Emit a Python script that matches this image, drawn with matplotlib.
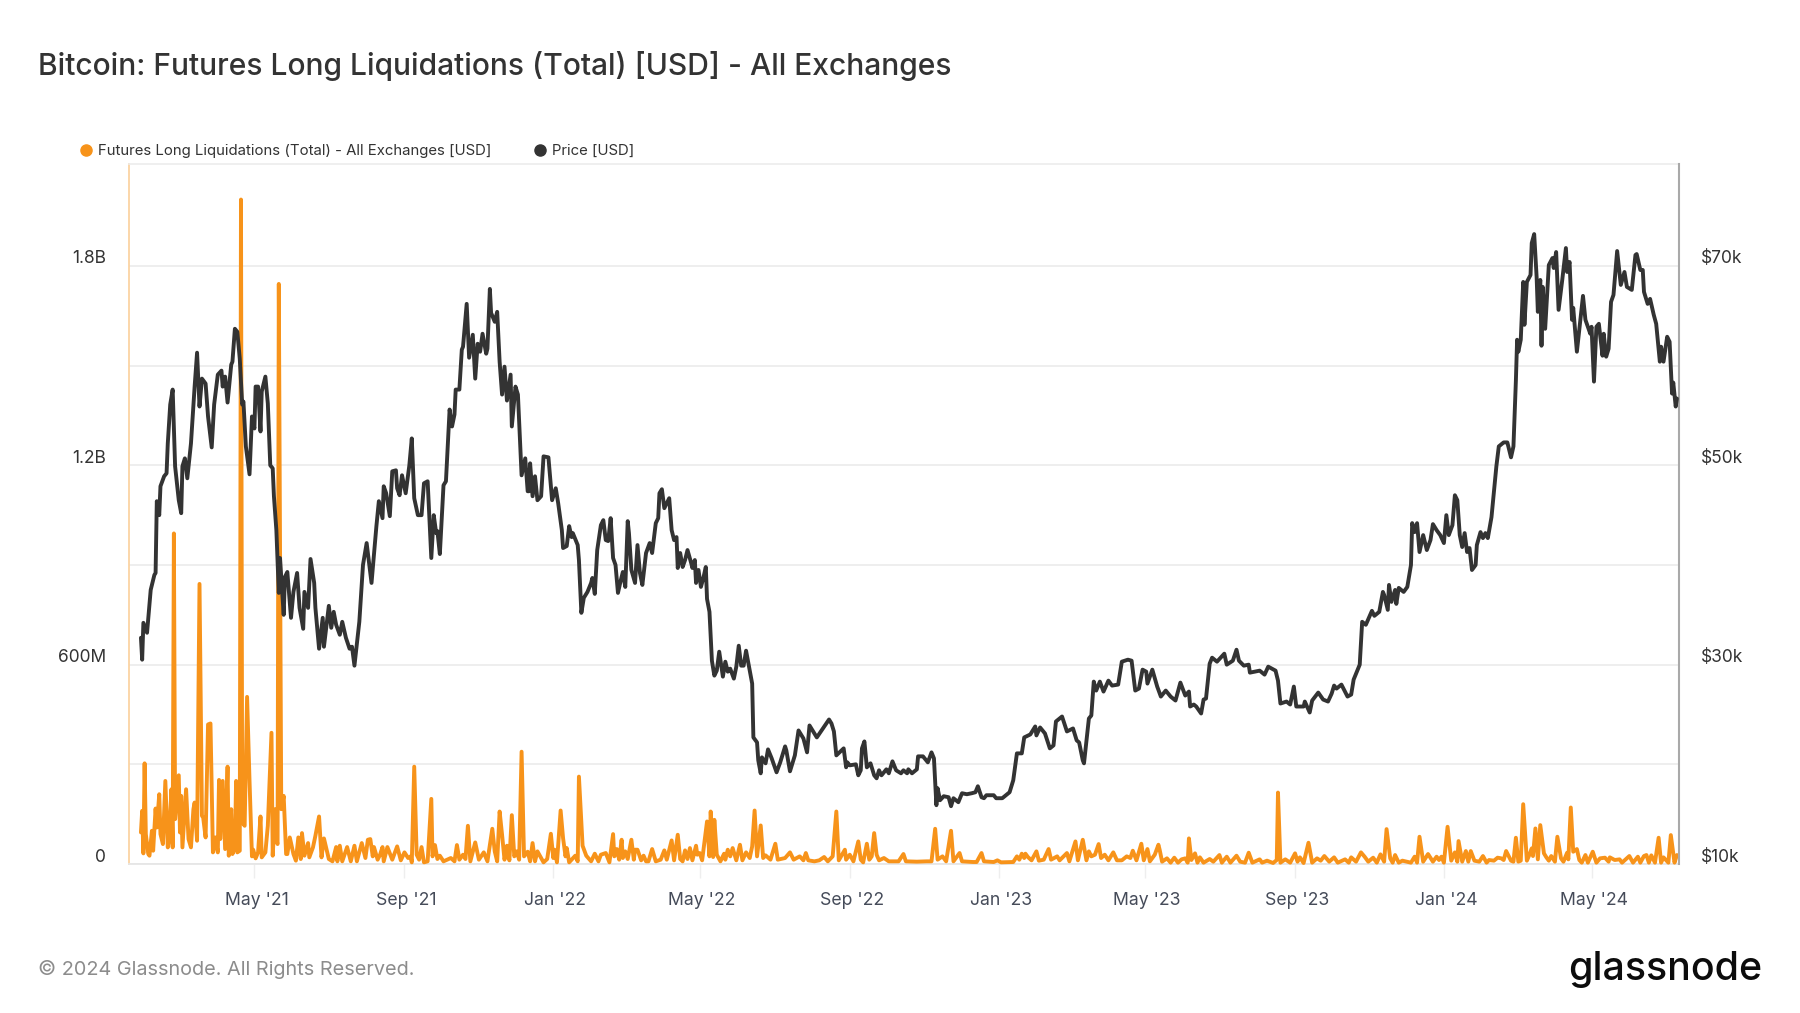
import pandas as pd
import matplotlib
matplotlib.use("Agg")
import matplotlib.pyplot as plt
import matplotlib.dates as mdates
from matplotlib.lines import Line2D
from matplotlib.transforms import ScaledTranslation

plt.rcParams["font.family"] = ["Inter", "DejaVu Sans"]

start_date = "2021-01-28"

price_days = [
    0, 1, 2, 5, 8, 11, 12, 13, 15, 16, 19, 21, 22, 24, 26, 28, 31, 33, 34, 36,
    38, 41, 44, 46, 48, 50, 53, 55, 58, 60, 63, 66, 67, 69, 71, 74, 75, 77, 79, 81,
    83, 84, 86, 89, 91, 93, 94, 96, 98, 99, 102, 104, 106, 108, 109, 111, 113, 114, 117, 118,
    120, 123, 125, 128, 130, 133, 134, 137, 139, 142, 143, 146, 149, 150, 154, 156, 158, 160, 163, 165,
    168, 171, 173, 175, 179, 182, 185, 189, 193, 195, 198, 199, 201, 204, 206, 209, 210, 212, 214, 217,
    220, 222, 224, 227, 230, 232, 235, 238, 240, 242, 243, 245, 248, 250, 253, 255, 257, 258, 261, 263,
    264, 267, 269, 272, 274, 276, 278, 280, 283, 284, 286, 287, 290, 292, 294, 296, 298, 300, 303, 304,
    307, 309, 312, 315, 317,
    318, 319, 321, 323, 325, 328, 330, 334, 337, 340, 342, 345, 346, 349, 351, 353, 354, 358, 359, 361,
    363, 366, 369, 370, 372, 374, 377, 379, 381, 383, 385, 387, 389, 391, 393, 395, 397, 399, 400, 402,
    405, 407, 409, 411, 414, 417, 419, 422, 424, 425, 427, 429, 433, 435, 437, 439, 440, 442, 444, 446,
    448, 451, 452, 454, 455, 457, 459, 461, 463,
    464, 466, 468, 470, 472, 474, 477, 479, 481, 483, 486, 488, 490, 492, 494, 496, 498, 501, 502, 505,
    506, 508, 509, 512, 514, 517, 521, 524, 528, 529, 532, 536, 539, 543, 546, 548, 554, 559, 564, 566,
    568, 570, 576, 578, 579, 581, 586, 588, 590, 591, 593, 595, 598, 601, 603, 605, 607, 611, 613, 616,
    619, 623, 625, 628, 629, 632, 636, 637, 641, 645, 648, 650, 652, 653, 655, 658, 662, 664, 666, 670,
    673, 677, 681, 684, 686, 689, 691, 693, 699, 701, 706, 712, 715, 718, 722, 724, 729, 733, 734, 737,
    741, 745, 748, 750, 755, 759, 764, 767, 769,
    772, 773, 777, 779, 781, 783, 786, 789, 793, 796, 801, 804, 809, 812, 815, 818, 821, 824, 825, 829,
    833, 836, 840, 844, 848, 852, 856, 859, 860, 863, 865, 869, 871, 873, 876, 878, 882, 888, 890, 895,
    898, 900, 904, 908, 909, 917, 921, 924, 930, 932, 934, 939, 942, 945, 947, 953, 954, 958, 960, 965,
    969, 973, 976, 978, 980, 984, 989, 992, 994, 996, 999, 1001, 1004, 1009, 1011, 1015, 1018, 1019, 1022, 1023,
    1025, 1028, 1029, 1031, 1035, 1038, 1041, 1042, 1044, 1046, 1048, 1051, 1054, 1057, 1059, 1062,
    1065, 1068, 1070, 1072, 1075, 1077, 1079, 1081, 1083, 1085, 1087, 1089, 1091, 1094, 1095, 1098, 1100, 1102, 1104, 1107,
    1109, 1111, 1113, 1117, 1120, 1123, 1125, 1127, 1128, 1129, 1131, 1133, 1134, 1136, 1139, 1140, 1142, 1144, 1145, 1147,
    1148, 1149, 1151, 1154, 1157, 1158, 1160, 1162, 1165, 1168, 1169, 1171, 1173, 1174, 1177, 1180, 1182, 1184, 1188, 1189,
    1191, 1193, 1195, 1198, 1199, 1201, 1203, 1205, 1207, 1210, 1213, 1216, 1218, 1222, 1225, 1226, 1229, 1231, 1232, 1235,
    1237, 1240, 1242, 1245, 1246, 1248, 1251, 1253, 1255, 1256, 1258, 1259,
]

price_usd_k = [
    32.7, 30.5, 34.2, 33.2, 37.5, 39.0, 39.2, 46.4, 45.0, 47.9, 48.9, 49.2, 52.2, 56.1, 57.6, 49.9, 46.5, 45.2, 49.9, 50.7,
    48.7, 52.2, 57.9, 61.3, 55.9, 58.7, 58.2, 54.9, 51.8, 56.1, 59.1, 59.5, 57.9, 58.9, 56.3, 60.1, 60.4, 63.7, 63.4, 60.7,
    56.1, 56.4, 51.9, 49.1, 54.9, 53.7, 57.9, 57.9, 53.4, 57.4, 58.9, 56.2, 50.0, 49.7, 46.9, 43.5, 37.2, 40.7, 35.0, 38.8,
    39.3, 34.7, 37.3, 39.2, 35.7, 33.6, 37.3, 35.7, 40.6, 38.2, 35.7, 31.6, 34.7, 31.8, 35.9, 33.7, 35.3, 34.0, 33.0, 34.3,
    32.7, 31.6, 31.8, 29.9, 34.3, 40.0, 42.2, 38.2, 43.9, 46.4, 44.7, 47.9, 47.2, 44.9, 49.4, 49.5, 47.7, 47.0, 49.0, 47.2,
    50.0, 52.7, 46.7, 45.0, 45.0, 48.2, 48.4, 40.7, 45.0, 43.2, 43.4, 41.1, 48.0, 48.4, 55.6, 53.9, 55.1, 57.6, 57.6, 61.6,
    61.9, 66.2, 60.8, 63.1, 58.7, 62.2, 61.4, 63.2, 61.2, 61.7, 67.7, 65.3, 64.4, 65.4, 60.4, 57.1, 59.9, 56.5, 59.1, 53.9,
    57.9, 57.1, 49.0, 50.7, 47.4,
    47.4, 50.2, 46.9, 48.9, 46.5, 46.9, 50.9, 50.8, 46.5, 47.7, 46.2, 43.5, 41.7, 41.9, 43.9, 42.8, 43.2, 42.0, 40.5, 35.2,
    36.7, 37.3, 38.2, 38.7, 37.1, 41.5, 44.0, 44.5, 42.5, 42.4, 44.7, 40.7, 40.0, 37.2, 38.3, 39.3, 37.8, 44.4, 43.2, 39.5,
    38.2, 42.0, 39.2, 38.0, 41.2, 42.2, 41.2, 44.2, 44.7, 47.2, 47.6, 45.7, 46.7, 43.5, 42.5, 42.8, 39.7, 41.2, 39.8, 40.5,
    41.5, 40.2, 39.7, 40.5, 38.2, 39.5, 37.8, 38.7, 39.8,
    36.6, 35.3, 30.4, 28.9, 29.4, 31.3, 28.8, 30.3, 29.3, 29.6, 28.6, 29.8, 31.9, 29.9, 29.9, 31.4, 30.1, 28.1, 22.7, 22.2,
    20.4, 19.1, 20.7, 20.1, 21.5, 20.6, 19.2, 20.2, 21.8, 21.4, 19.3, 20.9, 23.4, 22.6, 21.2, 23.9, 22.7, 23.6, 24.5, 24.1,
    23.3, 20.9, 21.6, 19.7, 20.2, 19.9, 20.0, 18.9, 19.4, 21.6, 22.3, 19.7, 20.1, 18.9, 18.6, 19.4, 18.9, 19.5, 19.1, 20.3,
    19.4, 19.1, 19.4, 19.1, 19.5, 19.1, 19.5, 20.8, 20.8, 20.2, 21.2, 20.6, 15.9, 17.6, 16.4, 16.8, 16.7, 15.8, 16.6, 16.2,
    17.1, 17.0, 17.1, 17.2, 17.8, 16.7, 16.6, 16.9, 16.9, 16.6, 16.6, 17.2, 18.4, 21.1, 21.1, 22.7, 23.0, 23.8, 22.9, 23.7,
    23.1, 21.6, 21.9, 24.3, 24.8, 23.3, 23.6, 22.4, 22.2,
    20.4, 20.1, 24.6, 24.9, 28.3, 27.4, 28.3, 27.3, 28.4, 27.9, 28.0, 30.3, 30.5, 30.4, 27.4, 27.6, 29.5, 29.3, 28.1, 29.5,
    27.8, 26.8, 27.4, 26.8, 26.4, 28.2, 26.9, 27.3, 25.8, 26.0, 25.8, 25.1, 26.5, 26.6, 30.1, 30.7, 30.3, 31.1, 30.0, 30.4,
    31.5, 30.4, 29.9, 30.0, 29.2, 29.4, 29.0, 29.8, 29.4, 28.4, 26.1, 26.3, 26.0, 27.8, 25.8, 25.8, 26.3, 25.2, 26.4, 27.2,
    26.5, 26.3, 27.1, 27.9, 27.6, 28.0, 26.8, 27.0, 28.5, 29.1, 30.0, 34.3, 34.0, 35.4, 34.9, 35.3, 37.3, 37.0, 35.5, 38.0,
    36.3, 37.5, 36.1, 37.7, 37.3, 37.8, 40.0, 44.2, 43.3, 44.2, 41.3, 43.0, 41.5, 42.5, 44.1, 43.5,
    43.0, 42.2, 45.0, 43.0, 44.0, 47.0, 46.5, 43.0, 41.8, 43.2, 41.3, 41.7, 39.5, 40.0, 42.0, 43.3, 42.7, 43.2, 42.7, 44.8,
    47.3, 49.9, 51.9, 52.3, 52.3, 50.8, 51.9, 58.5, 62.6, 61.4, 62.6, 68.4, 64.1, 68.4, 69.1, 72.3, 73.2, 68.9, 65.4, 68.6,
    62.0, 67.9, 63.7, 70.1, 70.8, 69.8, 71.4, 65.6, 68.6, 71.8, 69.4, 70.4, 64.6, 65.8, 61.4, 64.7, 67.0, 64.6, 63.2, 63.9,
    58.4, 63.9, 64.2, 61.0, 63.2, 60.9, 61.7, 66.4, 67.1, 71.5, 68.1, 69.4, 67.9, 67.6, 71.1, 71.2, 69.6, 69.6, 67.4, 66.2,
    66.7, 65.1, 64.2, 60.4, 61.9, 60.4, 62.9, 62.4, 57.2, 58.3, 55.9, 56.7,
]

liq_days = [
    0, 1, 2, 3, 4, 6, 7, 9, 10, 12, 13, 15, 16, 18, 20, 22, 23, 25, 26, 27,
    28, 31, 32, 33, 34, 37, 39, 41, 43, 44, 46, 48, 50, 51, 53, 55, 57, 59, 61, 63,
    64, 65, 67, 69, 71, 72, 74, 75, 77, 78, 79, 81, 82, 83, 85, 87, 89, 91, 92, 94,
    96, 98, 99, 102, 104, 107, 108, 110, 111, 112, 113, 115, 117, 119, 120, 122, 125, 127, 129, 131,
    132, 134, 137, 138, 141, 143, 146, 148, 150, 154,
    157, 160, 161, 163, 165, 169, 172, 175, 177, 181, 184, 186, 188, 190, 191, 194, 196, 198, 199, 202,
    206, 210, 213, 216, 219, 221, 222, 224, 226, 228, 230, 232, 235, 238, 239, 241, 243, 245, 248, 254,
    257, 259, 261, 264, 266, 268, 270, 274, 277, 281, 284, 288, 290, 292, 294, 296, 298, 300, 302, 304,
    306, 308, 310, 312, 314, 317, 319, 321, 323, 325, 328, 330, 333, 336, 338, 339, 341, 344, 346, 348,
    349, 351, 356, 358, 359, 362, 365, 369, 372, 375, 377, 381, 384, 387, 388, 390, 392, 394, 395, 397,
    399, 402, 404, 405, 407, 410, 412, 414,
    416, 419, 422, 426, 429, 431, 435, 437, 440, 442, 444, 446, 448, 450, 452, 455, 456, 458, 460, 464,
    466, 467, 469, 470, 472, 475, 478, 479, 481, 483, 485, 488, 491, 493, 496, 499, 501, 503, 505, 508,
    510, 512, 516, 520, 522, 528, 532, 535, 540, 543, 545, 547, 552, 556, 560, 563, 567, 570, 572, 577,
    578, 581, 584, 588, 590, 592, 595, 597, 599, 601, 603, 605, 609, 613, 621, 625, 627, 636, 644, 648,
    651, 653, 657, 660, 664, 666, 671, 673, 682, 685, 689, 691, 699, 702, 705, 715, 718, 720, 722, 724,
    725, 727, 730, 734, 736, 740, 744, 746, 751, 753, 759, 761, 766, 768, 772, 775, 777, 779, 782, 785,
    787, 790, 793, 797, 800, 804, 808, 811, 813, 816, 820, 822, 825, 827, 831, 834,
    835, 837, 841, 844, 847, 850, 853, 856, 858, 859, 861, 864, 866, 868, 871, 876, 879, 884, 886, 890,
    893, 898, 901, 905, 908, 911, 917, 919, 923, 928, 931, 932, 934, 938, 942, 946, 948, 950, 953, 957,
    960, 964, 967, 970, 974, 978, 981, 987, 990, 992, 996, 1000, 1003, 1006, 1010, 1013, 1016, 1019, 1021, 1024,
    1026, 1028, 1031, 1034, 1041, 1044, 1046, 1048, 1051, 1055, 1059, 1062, 1064, 1066, 1068, 1071, 1074, 1077, 1079, 1080,
    1083, 1086, 1088, 1090, 1093, 1097, 1100, 1103, 1105, 1109, 1112, 1115, 1117, 1119, 1123, 1125, 1127, 1129, 1131, 1133,
    1136, 1138, 1140, 1141, 1143, 1145, 1147, 1150, 1152, 1154, 1156, 1159, 1161, 1164, 1166, 1169, 1170, 1172, 1174, 1177,
    1179, 1181, 1184, 1186, 1190, 1193, 1196, 1200, 1203, 1204, 1208, 1212, 1214, 1220, 1223, 1227, 1229, 1232, 1234, 1236,
    1238, 1241, 1244, 1246, 1248, 1252, 1254, 1257, 1259,
]

liq_usd_m = [
    95, 160, 32, 303, 90, 30, 25, 100, 40, 167, 110, 210, 90, 60, 250, 50, 75, 225, 50, 995,
    135, 267, 95, 205, 50, 225, 75, 50, 165, 185, 70, 843, 145, 140, 80, 420, 423, 35, 80, 35,
    253, 75, 250, 45, 293, 25, 165, 30, 50, 250, 35, 40, 2000, 125, 115, 503, 250, 23, 43, 17,
    35, 143, 20, 35, 115, 395, 25, 165, 70, 60, 1746, 165, 205, 30, 30, 80, 30, 10, 80, 15,
    93, 25, 63, 20, 50, 85, 143, 20, 77, 15,
    8, 51, 8, 55, 8, 51, 8, 55, 8, 63, 18, 73, 75, 23, 51, 13, 28, 51, 8, 51,
    13, 53, 11, 35, 18, 23, 5, 293, 28, 13, 51, 5, 8, 196, 23, 57, 15, 25, 8, 18,
    8, 57, 13, 28, 15, 115, 8, 65, 13, 35, 8, 106, 38, 8, 158, 88, 13, 55, 11, 147,
    23, 38, 13, 338, 23, 37, 8, 63, 8, 38, 18, 5, 15, 91, 18, 43, 5, 161, 78, 23,
    48, 5, 25, 8, 263, 55, 25, 8, 31, 8, 28, 33, 5, 90, 23, 45, 13, 73, 18, 38,
    15, 73, 13, 43, 43, 11, 25, 8,
    8, 45, 8, 13, 41, 13, 71, 11, 88, 15, 8, 41, 15, 48, 11, 55, 28, 33, 11, 128,
    23, 158, 21, 133, 28, 8, 31, 13, 43, 23, 48, 11, 58, 11, 35, 18, 53, 161, 23, 116,
    18, 26, 13, 61, 13, 18, 35, 13, 23, 11, 33, 11, 8, 11, 21, 8, 23, 158, 11, 43,
    13, 28, 8, 68, 13, 5, 61, 13, 23, 93, 28, 11, 18, 8, 8, 30, 8, 7, 8, 8,
    106, 13, 23, 8, 100, 8, 33, 8, 6, 6, 33, 8, 6, 11, 5, 6, 23, 13, 31, 18,
    31, 21, 11, 38, 10, 13, 45, 13, 23, 11, 33, 8, 68, 11, 73, 11, 38, 23, 28, 60,
    18, 28, 11, 35, 11, 11, 23, 18, 40, 11, 61, 11, 45, 8, 28, 58,
    43, 7, 17, 4, 19, 4, 14, 17, 4, 77, 12, 32, 4, 20, 4, 15, 7, 27, 4, 22,
    4, 25, 7, 4, 34, 4, 14, 4, 10, 3, 12, 215, 4, 14, 4, 32, 7, 20, 3, 64,
    4, 17, 10, 24, 7, 20, 4, 14, 4, 20, 7, 35, 22, 7, 19, 4, 29, 7, 105, 17,
    4, 27, 4, 10, 4, 22, 4, 82, 7, 30, 7, 22, 12, 22, 4, 112, 10, 35, 7, 69,
    7, 39, 7, 39, 10, 7, 24, 4, 12, 10, 19, 17, 12, 39, 10, 7, 79, 7, 10, 180,
    10, 27, 47, 24, 107, 14, 117, 32, 20, 10, 24, 7, 82, 17, 7, 34, 14, 170, 37, 45,
    12, 4, 27, 4, 37, 4, 17, 19, 7, 20, 12, 14, 4, 24, 4, 22, 4, 24, 27, 4,
    26, 4, 79, 4, 20, 4, 87, 4, 27,
]

liq_ticks = [0, 600e6, 1.2e9, 1.8e9]
liq_tick_labels = ["0", "600M", "1.2B", "1.8B"]
liq_grid_minor = [300e6, 900e6, 1.5e9]
price_ticks = [10e3, 30e3, 50e3, 70e3]
price_tick_labels = ["$10k", "$30k", "$50k", "$70k"]

orange = "#f7931a"
dark = "#333333"
grid_color = "#ebebeb"

start = pd.Timestamp(start_date)
price_x = start + pd.to_timedelta(price_days, unit="D")
liq_x = start + pd.to_timedelta(liq_days, unit="D")

fig = plt.figure(figsize=(18, 10.13), dpi=100)
ax = fig.add_axes([128.5 / 1800, 1 - 864 / 1013, (1679 - 128.5) / 1800, 700 / 1013])

ax.plot(liq_x, [v * 1e6 for v in liq_usd_m], color=orange, lw=2.8, solid_joinstyle="round",
        solid_capstyle="round", clip_on=False, zorder=3)
ax.set_ylim(0, 2.107e9)
ax.set_xlim(start - pd.Timedelta(days=10.2), start + pd.Timedelta(days=1260.7))

ax.set_yticks(liq_ticks)
ax.set_yticklabels(liq_tick_labels)
ax.set_yticks(liq_grid_minor, minor=True)
ax.yaxis.grid(True, which="both", color=grid_color, lw=1.2)
ax.set_axisbelow(True)
ax.tick_params(axis="y", which="both", length=0, pad=16.2, labelsize=12.5, labelcolor=dark)

ax.xaxis.set_major_locator(mdates.MonthLocator(bymonth=(1, 5, 9)))
ax.xaxis.set_major_formatter(mdates.DateFormatter("%b '%y"))
ax.tick_params(axis="x", length=10, width=1, color="#eeeeee", pad=10.3, labelsize=12.7, labelcolor="#454b59")

ax.spines["left"].set_color("#fbd3a3")
ax.spines["left"].set_linewidth(1.3)
ax.spines["bottom"].set_color("#e6e6e6")
ax.spines["bottom"].set_linewidth(1.3)
ax.spines["top"].set_color("#ececec")
ax.spines["top"].set_linewidth(1.2)
ax.spines["right"].set_visible(False)

# second scale for the price, drawn over the liquidations
ax2 = ax.twinx()
ax2.plot(price_x, [v * 1e3 for v in price_usd_k], color=dark, lw=2.8, solid_joinstyle="round",
         solid_capstyle="round", zorder=4)
ax2.set_ylim(10e3, 10e3 + 2.107e9 / 30000)
ax2.set_yticks(price_ticks)
ax2.set_yticklabels(price_tick_labels)
ax2.tick_params(axis="y", length=0, pad=15.6, labelsize=12.5, labelcolor=dark)
for side in ["left", "top", "bottom"]:
    ax2.spines[side].set_visible(False)
ax2.spines["right"].set_color("#a9a9a9")
ax2.spines["right"].set_linewidth(1.5)

# tick labels sit a little above their gridline
shift = ScaledTranslation(0, 9 / 100, fig.dpi_scale_trans)
for label in ax.get_yticklabels() + ax2.get_yticklabels():
    label.set_transform(label.get_transform() + shift)
shift_x = ScaledTranslation(2 / 100, 0, fig.dpi_scale_trans)
for label in ax.get_xticklabels():
    label.set_transform(label.get_transform() + shift_x)

handles = [
    Line2D([], [], color=orange, marker="o", ls="", ms=8),
    Line2D([], [], color=dark, marker="o", ls="", ms=8),
]
fig.legend(handles, ["Futures Long Liquidations (Total) - All Exchanges [USD]", "Price [USD]"],
           loc="center left", bbox_to_anchor=(79 / 1800, 1 - 151 / 1013), ncol=2, frameon=False,
           fontsize=10.75, labelcolor=dark, borderpad=0, borderaxespad=0, handlelength=0.9,
           handletextpad=0.35, columnspacing=2.85)

fig.text(38 / 1800, 1 - 66 / 1013, "Bitcoin: Futures Long Liquidations (Total) [USD] - All Exchanges",
         fontsize=21.6, color=dark, va="center", ha="left", fontweight="medium")
fig.text(38 / 1800, 1 - 969 / 1013, "© 2024 Glassnode. All Rights Reserved.",
         fontsize=14.3, color="#8c8c8c", va="center", ha="left")
fig.text(1762 / 1800, 1 - 969 / 1013, "glassnode", fontsize=28.3, color="#0c0c0c",
         va="center", ha="right", fontweight="medium")

fig.savefig("out.png", dpi=100)
